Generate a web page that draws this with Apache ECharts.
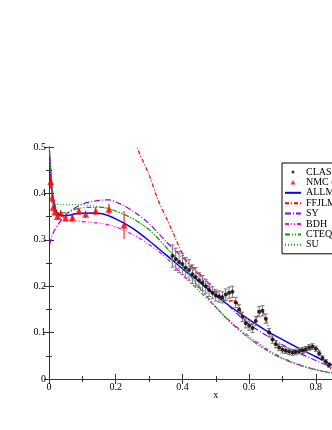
<!DOCTYPE html>
<html>
<head>
<meta charset="utf-8">
<script src="https://cdn.jsdelivr.net/npm/echarts@6/dist/echarts.min.js"></script>
<style>
  html, body { margin: 0; padding: 0; background: #fff; overflow: hidden; }
  #chart { width: 400px; height: 430px; }
</style>
</head>
<body>
<div id="chart"></div>
<script>
// CLAS data: [x, y, error]
const clas = [
  [0.37, 0.265, 0.024], [0.38, 0.258, 0.024], [0.39, 0.252, 0.023], [0.40, 0.248, 0.023],
  [0.41, 0.240, 0.022], [0.42, 0.235, 0.022], [0.43, 0.226, 0.020], [0.44, 0.220, 0.020],
  [0.45, 0.213, 0.016], [0.46, 0.207, 0.016], [0.47, 0.200, 0.015], [0.48, 0.192, 0.014],
  [0.49, 0.186, 0.013], [0.50, 0.180, 0.012], [0.51, 0.178, 0.012], [0.52, 0.176, 0.012],
  [0.53, 0.182, 0.012], [0.54, 0.186, 0.012], [0.55, 0.188, 0.012], [0.56, 0.165, 0.011],
  [0.57, 0.150, 0.010], [0.58, 0.134, 0.010], [0.59, 0.120, 0.010], [0.60, 0.115, 0.010],
  [0.61, 0.110, 0.010], [0.62, 0.125, 0.010], [0.63, 0.145, 0.011], [0.64, 0.147, 0.011],
  [0.65, 0.130, 0.010], [0.66, 0.100, 0.009], [0.67, 0.085, 0.008], [0.68, 0.075, 0.008],
  [0.69, 0.068, 0.007], [0.70, 0.063, 0.007], [0.71, 0.061, 0.006], [0.72, 0.059, 0.006],
  [0.73, 0.057, 0.006], [0.74, 0.058, 0.006], [0.75, 0.060, 0.006], [0.76, 0.062, 0.006],
  [0.77, 0.064, 0.006], [0.78, 0.068, 0.006], [0.79, 0.070, 0.006], [0.80, 0.065, 0.006],
  [0.81, 0.055, 0.005], [0.82, 0.045, 0.005], [0.83, 0.037, 0.005], [0.84, 0.030, 0.005]
]

// NMC d data: [x, y, error]
const nmc = [
  [0.005, 0.425, 0.015], [0.009, 0.390, 0.012], [0.0125, 0.370, 0.010], [0.0175, 0.360, 0.008],
  [0.025, 0.350, 0.006], [0.035, 0.357, 0.006], [0.05, 0.347, 0.006], [0.07, 0.348, 0.006],
  [0.09, 0.362, 0.007], [0.11, 0.355, 0.008], [0.14, 0.362, 0.009], [0.18, 0.366, 0.012],
  [0.225, 0.332, 0.030]
]

const allm = [
  [0.002, 0.48], [0.01, 0.40], [0.02, 0.365], [0.03, 0.354], [0.05, 0.352], [0.08, 0.356],
  [0.12, 0.358], [0.16, 0.356], [0.2, 0.345], [0.25, 0.325], [0.3, 0.298], [0.35, 0.268],
  [0.4, 0.238], [0.45, 0.21], [0.5, 0.18], [0.55, 0.153], [0.6, 0.128], [0.65, 0.105],
  [0.7, 0.085], [0.75, 0.066], [0.8, 0.048], [0.85, 0.03], [0.9, 0.015]
]

const ffjlm = [
  [0.2, 0.68], [0.24, 0.57], [0.264, 0.5], [0.3, 0.44], [0.327, 0.386], [0.35, 0.35],
  [0.372, 0.315], [0.4, 0.27], [0.43, 0.236], [0.45, 0.225], [0.47, 0.205], [0.49, 0.192],
  [0.51, 0.178], [0.525, 0.17], [0.54, 0.168], [0.555, 0.17], [0.565, 0.163], [0.58, 0.135],
  [0.595, 0.12], [0.61, 0.118], [0.625, 0.135], [0.64, 0.145], [0.65, 0.13], [0.663, 0.1],
  [0.68, 0.078], [0.7, 0.064], [0.73, 0.055], [0.76, 0.055], [0.78, 0.062], [0.798, 0.068],
  [0.813, 0.058], [0.825, 0.04], [0.837, 0.027], [0.85, 0.02], [0.87, 0.015]
]

const sy = [
  [0.002, 0.29], [0.01, 0.31], [0.02, 0.325], [0.04, 0.345], [0.06, 0.36], [0.1, 0.377],
  [0.15, 0.385], [0.18, 0.386], [0.22, 0.375], [0.26, 0.358], [0.3, 0.335], [0.35, 0.297],
  [0.4, 0.262], [0.45, 0.228], [0.5, 0.19], [0.55, 0.15], [0.6, 0.118], [0.65, 0.095],
  [0.7, 0.074], [0.75, 0.056], [0.8, 0.04], [0.85, 0.025], [0.9, 0.013]
]

const bdh = [
  [0.001, 0.5], [0.005, 0.45], [0.01, 0.4], [0.02, 0.355], [0.04, 0.343], [0.08, 0.34],
  [0.12, 0.338], [0.16, 0.335], [0.2, 0.328], [0.25, 0.312], [0.3, 0.29], [0.35, 0.262],
  [0.4, 0.225], [0.45, 0.19], [0.5, 0.155], [0.55, 0.12], [0.6, 0.092], [0.65, 0.066],
  [0.7, 0.046], [0.75, 0.031], [0.8, 0.02], [0.85, 0.012], [0.9, 0.007]
]

const cteq = [
  [0.002, 0.49], [0.01, 0.41], [0.02, 0.37], [0.03, 0.358], [0.05, 0.358], [0.08, 0.366],
  [0.12, 0.37], [0.16, 0.37], [0.2, 0.362], [0.25, 0.346], [0.3, 0.322], [0.35, 0.285],
  [0.4, 0.245], [0.45, 0.198], [0.5, 0.155], [0.55, 0.118], [0.6, 0.088], [0.65, 0.063],
  [0.7, 0.044], [0.75, 0.03], [0.8, 0.02], [0.85, 0.013], [0.9, 0.008]
]

const su = [
  [0.002, 0.47], [0.01, 0.4], [0.02, 0.378], [0.04, 0.376], [0.08, 0.376], [0.12, 0.374],
  [0.16, 0.37], [0.2, 0.362], [0.25, 0.346], [0.3, 0.322], [0.35, 0.285], [0.4, 0.245],
  [0.45, 0.198], [0.5, 0.155], [0.55, 0.118], [0.6, 0.088], [0.65, 0.063], [0.7, 0.044],
  [0.75, 0.03], [0.8, 0.02], [0.85, 0.013], [0.9, 0.008]
]

const FONT = 'Liberation Serif'
const AXIS_COLOR = '#333'

function curve(name, data, color, type, width) {
  return {
    name: name,
    type: 'line',
    data: data,
    symbol: 'none',
    smooth: 0.3,
    z: 2,
    lineStyle: { color: color, width: width || 1.2, type: type },
    itemStyle: { color: color }
  }
}

// 误差棒
function errorBars(data, color, cap) {
  return {
    type: 'custom',
    z: 3,
    silent: true,
    data: data,
    renderItem: (params, api) => {
      const x = api.value(0)
      const y = api.value(1)
      const e = api.value(2)
      const top = api.coord([x, y + e])
      const bot = api.coord([x, y - e])
      const children = [{
        type: 'line',
        shape: { x1: top[0], y1: top[1], x2: bot[0], y2: bot[1] },
        style: { stroke: color, lineWidth: 1 }
      }]
      if (cap) {
        children.push({
          type: 'line',
          shape: { x1: top[0] - cap, y1: top[1], x2: top[0] + cap, y2: top[1] },
          style: { stroke: color, lineWidth: 1 }
        })
        children.push({
          type: 'line',
          shape: { x1: bot[0] - cap, y1: bot[1], x2: bot[0] + cap, y2: bot[1] },
          style: { stroke: color, lineWidth: 1 }
        })
      }
      return { type: 'group', children: children }
    }
  }
}

// 主刻度轴（长刻度，朝内）
function mainAxis(position, max, interval, showLabel) {
  return {
    type: 'value',
    position: position,
    min: 0,
    max: max,
    interval: interval,
    axisLine: { lineStyle: { color: AXIS_COLOR, width: 1 } },
    axisTick: { inside: true, length: 5, lineStyle: { color: AXIS_COLOR } },
    splitLine: { show: false },
    axisLabel: { show: showLabel, color: '#000', fontFamily: FONT, fontSize: 10, margin: 3 }
  }
}

// 次刻度轴（短刻度，只画刻度）
function minorAxis(position, max, interval) {
  return {
    type: 'value',
    position: position,
    min: 0,
    max: max,
    interval: interval,
    axisLine: { show: false },
    axisTick: { inside: true, length: 3, lineStyle: { color: AXIS_COLOR } },
    splitLine: { show: false },
    axisLabel: { show: false }
  }
}

// 图例里的曲线只画线，不画圆点
const noDot = { opacity: 0 }

const xBottom = mainAxis('bottom', 1, 0.2, true)
xBottom.name = 'x'
xBottom.nameLocation = 'middle'
xBottom.nameGap = 11
xBottom.nameMoveOverlap = false
xBottom.nameTextStyle = { fontFamily: FONT, fontSize: 10, color: '#000', verticalAlign: 'top' }

const chart = echarts.init(document.getElementById('chart'))
chart.setOption({
  backgroundColor: '#fff',
  animation: false,
  grid: { left: 49, right: 17.5, top: 147, bottom: 51 },
  legend: {
    orient: 'vertical',
    left: 282,
    top: 163,
    padding: [4, 40, 4, 2],
    itemWidth: 16,
    itemHeight: 8,
    itemGap: 0.4,
    backgroundColor: '#fff',
    borderColor: '#000',
    borderWidth: 1,
    borderRadius: 0,
    textStyle: { fontFamily: FONT, fontSize: 10, color: '#000', lineHeight: 8 },
    data: [
      { name: 'CLAS', icon: 'path://M0,0M16,8M6.5,4a1.5,1.5 0 1,0 3,0a1.5,1.5 0 1,0 -3,0' },
      { name: 'NMC data', icon: 'path://M0,0M16,8M8,1.5L10.5,6L5.5,6Z' },
      { name: 'ALLM', itemStyle: noDot },
      { name: 'FFJLM', itemStyle: noDot },
      { name: 'SY', itemStyle: noDot },
      { name: 'BDH', itemStyle: noDot },
      { name: 'CTEQ6', itemStyle: noDot },
      { name: 'SU', itemStyle: noDot }
    ]
  },
  xAxis: [
    xBottom,
    mainAxis('top', 1, 0.2, false),
    minorAxis('bottom', 1, 0.1),
    minorAxis('top', 1, 0.1)
  ],
  yAxis: [
    mainAxis('left', 0.5, 0.1, true),
    mainAxis('right', 0.5, 0.1, false),
    minorAxis('left', 0.5, 0.05),
    minorAxis('right', 0.5, 0.05)
  ],
  series: [
    curve('ALLM', allm, '#0000ff', 'solid', 1.5),
    curve('FFJLM', ffjlm, '#ff0000', [4, 2, 1, 2]),
    curve('SY', sy, '#9400d3', [6, 2, 1, 2]),
    curve('BDH', bdh, '#ff00ff', [4, 2, 1, 2, 1, 2]),
    curve('CTEQ6', cteq, '#1e8b1e', [5, 2, 1, 2, 1, 2]),
    curve('SU', su, '#22aa22', [1, 2]),
    errorBars(clas, '#777', 2),
    errorBars(nmc, '#ff0000', 0),
    {
      name: 'CLAS',
      type: 'scatter',
      z: 4,
      data: clas.map(d => [d[0], d[1]]),
      symbol: 'circle',
      symbolSize: 4,
      itemStyle: { color: '#000' }
    },
    {
      name: 'NMC data',
      type: 'scatter',
      z: 4,
      data: nmc.map(d => [d[0], d[1]]),
      symbol: 'triangle',
      symbolSize: 7,
      itemStyle: { color: '#ff0000' }
    }
  ]
})
</script>
</body>
</html>
